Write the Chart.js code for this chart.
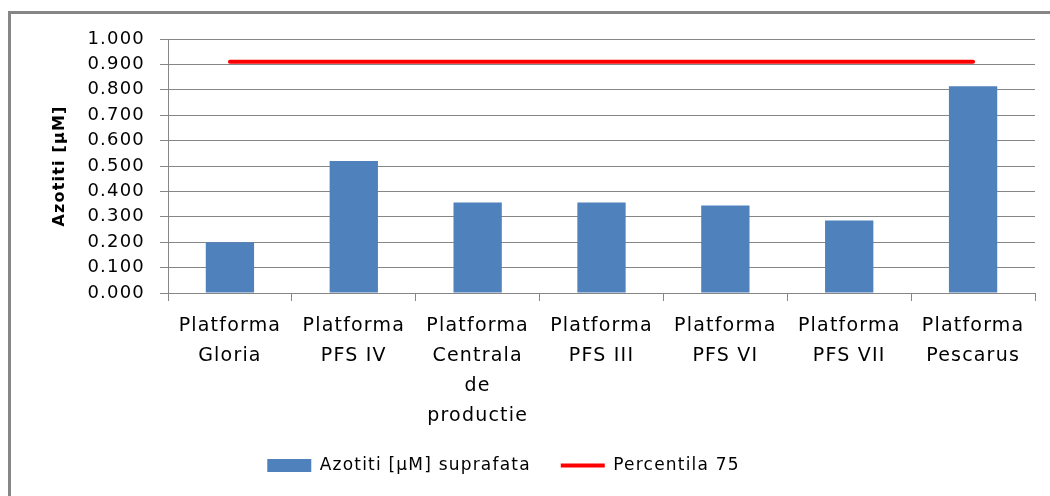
<!DOCTYPE html>
<html>
<head>
<meta charset="utf-8">
<script src="https://cdn.jsdelivr.net/npm/chart.js@4.4.1/dist/chart.umd.min.js"></script>
<style>
  html, body { margin: 0; padding: 0; background: #fff; }
  #wrap { width: 1050px; height: 496px; }
</style>
</head>
<body>
<div id="wrap"><canvas id="myChart" width="1050" height="496"></canvas></div>
<script>
// values
var categories = [
    ['Platforma', 'Gloria'],
    ['Platforma', 'PFS IV'],
    ['Platforma', 'Centrala', 'de', 'productie'],
    ['Platforma', 'PFS III'],
    ['Platforma', 'PFS VI'],
    ['Platforma', 'PFS VII'],
    ['Platforma', 'Pescarus']
];
var azotitiValues = [0.200, 0.520, 0.356, 0.356, 0.344, 0.285, 0.814];
var percentila75 = [0.910, 0.910, 0.910, 0.910, 0.910, 0.910, 0.910];
var seriesNames = ['Azotiti [µM] suprafata', 'Percentila 75'];
var yTitle = 'Azotiti [µM]';

var gridColor = '#868686';

// wider letter spacing like the original rendering
function setSpacing(chart) {
    chart.ctx.letterSpacing = '1.2px';
}

var framePlugin = {
    id: 'frame',
    beforeLayout: setSpacing,
    afterLayout: function (chart) {
        // legend in the original sits a bit left of centre
        chart.legend.right = chart.width - 15 - 38;
    },
    beforeDraw: function (chart) {
        setSpacing(chart);
        var ctx = chart.ctx;
        ctx.save();
        ctx.fillStyle = gridColor;
        ctx.fillRect(8, 11, 1042, 3);
        ctx.fillRect(8, 11, 3, 485);
        ctx.restore();
    }
};

new Chart('myChart', {
    data: {
        labels: categories,
        datasets: [{
            type: 'line',
            label: seriesNames[1],
            data: percentila75,
            borderColor: '#FF0000',
            backgroundColor: '#FF0000',
            borderWidth: 4,
            borderCapStyle: 'round',
            pointRadius: 0,
            pointStyle: 'line',
            order: 0
        }, {
            type: 'bar',
            label: seriesNames[0],
            data: azotitiValues,
            backgroundColor: '#4F81BD',
            borderWidth: 0,
            barPercentage: 0.39,
            categoryPercentage: 1,
            pointStyle: 'rect',
            order: 1
        }]
    },
    options: {
        responsive: false,
        animation: false,
        layout: { padding: { left: 10, top: 39, right: 15, bottom: 12 } },
        plugins: {
            tooltip: { enabled: false },
            legend: {
                position: 'bottom',
                reverse: true,
                labels: {
                    color: '#000',
                    font: { family: 'DejaVu Sans', size: 17 },
                    usePointStyle: true,
                    pointStyleWidth: 44,
                    boxWidth: 44,
                    boxHeight: 13,
                    padding: 30
                }
            }
        },
        scales: {
            x: {
                grid: {
                    offset: true,
                    drawOnChartArea: false,
                    drawTicks: true,
                    tickLength: 8,
                    color: gridColor
                },
                border: { color: gridColor, width: 1 },
                ticks: {
                    color: '#000',
                    maxRotation: 0,
                    autoSkip: false,
                    padding: 10,
                    font: { family: 'DejaVu Sans', size: 19, lineHeight: 1.58 }
                },
                afterFit: function (scale) { scale.height = 134; }
            },
            y: {
                min: 0,
                max: 1,
                ticks: {
                    stepSize: 0.1,
                    autoSkip: false,
                    color: '#000',
                    padding: 15,
                    font: { family: 'DejaVu Sans', size: 18 },
                    callback: function (v) { return v.toFixed(3); }
                },
                grid: { color: gridColor, tickLength: 8 },
                border: { color: gridColor, width: 1 },
                title: {
                    display: true,
                    text: yTitle,
                    color: '#000',
                    font: { family: 'DejaVu Sans', size: 16, weight: 'bold' },
                    padding: { top: 40, bottom: 0 }
                },
                afterFit: function (scale) { scale.width = 158; }
            }
        }
    },
    plugins: [framePlugin]
});
</script>
</body>
</html>
